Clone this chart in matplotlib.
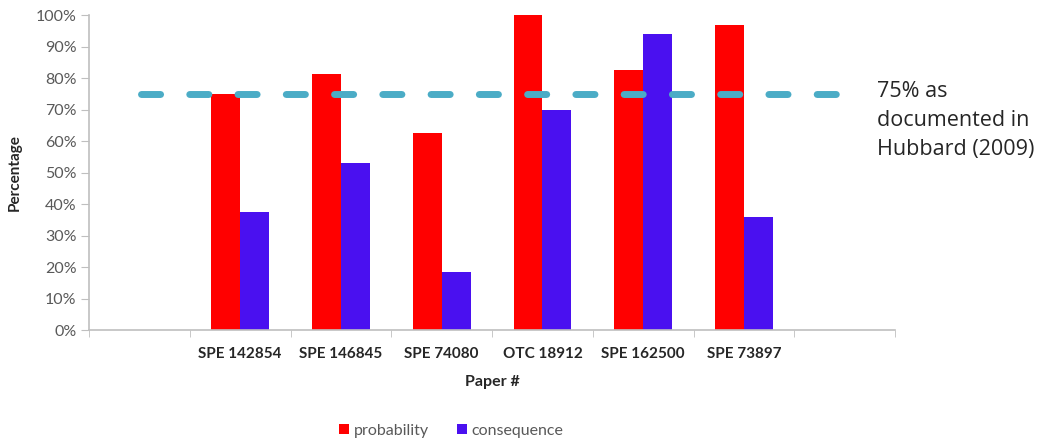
import numpy as np
import matplotlib
matplotlib.use("Agg")
import matplotlib.pyplot as plt
from matplotlib.ticker import FixedLocator, PercentFormatter

plt.rcParams['font.family'] = ['Lato', 'DejaVu Sans']

# Category slots: an empty slot on each side of the six papers
papers = ["", "SPE 142854", "SPE 146845", "SPE 74080", "OTC 18912",
          "SPE 162500", "SPE 73897", ""]
probability = [np.nan, 75.0, 81.3, 62.5, 100.0, 82.4, 96.9, np.nan]
consequence = [np.nan, 37.5, 53.0, 18.4, 70.0, 94.1, 36.0, np.nan]
reference_level = 75.0
yticks = list(range(0, 101, 10))

fig = plt.figure(figsize=(10.47, 4.43), dpi=100)
ax = fig.add_axes([0.085, 0.255, 0.770, 0.711])

x = np.arange(len(papers))
w = 0.286
ax.bar(x - w / 2, probability, width=w, color="#FF0000", label="probability", zorder=2)
ax.bar(x + w / 2, consequence, width=w, color="#4A10F0", label="consequence", zorder=2)

ax.set_xlim(-0.5, len(papers) - 0.5)
ax.set_ylim(0, 100)

# Threshold line across the chart
ax.plot([0.02, 6.99], [reference_level, reference_level], color="#4BACC6",
        lw=5, dashes=(2.75, 4.2), dash_capstyle="round", zorder=3, clip_on=False)
fig.text(0.838, 0.818, "75% as\ndocumented in\nHubbard (2009)", fontsize=15.5,
         color="#262626", va="top", ha="left", linespacing=1.5,
         family=['Open Sans', 'DejaVu Sans'])

# Axes styling
for s in ("top", "right"):
    ax.spines[s].set_visible(False)
for s in ("left", "bottom"):
    ax.spines[s].set_color("#BFBFBF")
    ax.spines[s].set_linewidth(1.2)

ax.yaxis.set_major_locator(FixedLocator(yticks))
ax.yaxis.set_major_formatter(PercentFormatter(decimals=0))
ax.tick_params(axis="y", length=6, color="#BFBFBF", labelsize=11.5,
               labelcolor="#595959", pad=3)

ax.set_xticks(x)
ax.set_xticklabels(papers, fontweight="bold", fontsize=11, color="#262626")
ax.tick_params(axis="x", which="major", length=0, pad=12)
ax.set_xticks(np.arange(len(papers) + 1) - 0.5, minor=True)
ax.tick_params(axis="x", which="minor", length=5, color="#BFBFBF")

ax.set_xlabel("Paper #", fontweight="bold", fontsize=11.5, color="#262626", labelpad=10)
ax.set_ylabel("Percentage", fontweight="bold", fontsize=11, color="#262626", labelpad=10)

fig.legend(loc="center", bbox_to_anchor=(0.431, 0.028), ncol=2, frameon=False,
           fontsize=11.5, labelcolor="#595959", handlelength=0.6, handleheight=0.6,
           handletextpad=0.3, columnspacing=1.8)

fig.savefig("out.png", dpi=100)
